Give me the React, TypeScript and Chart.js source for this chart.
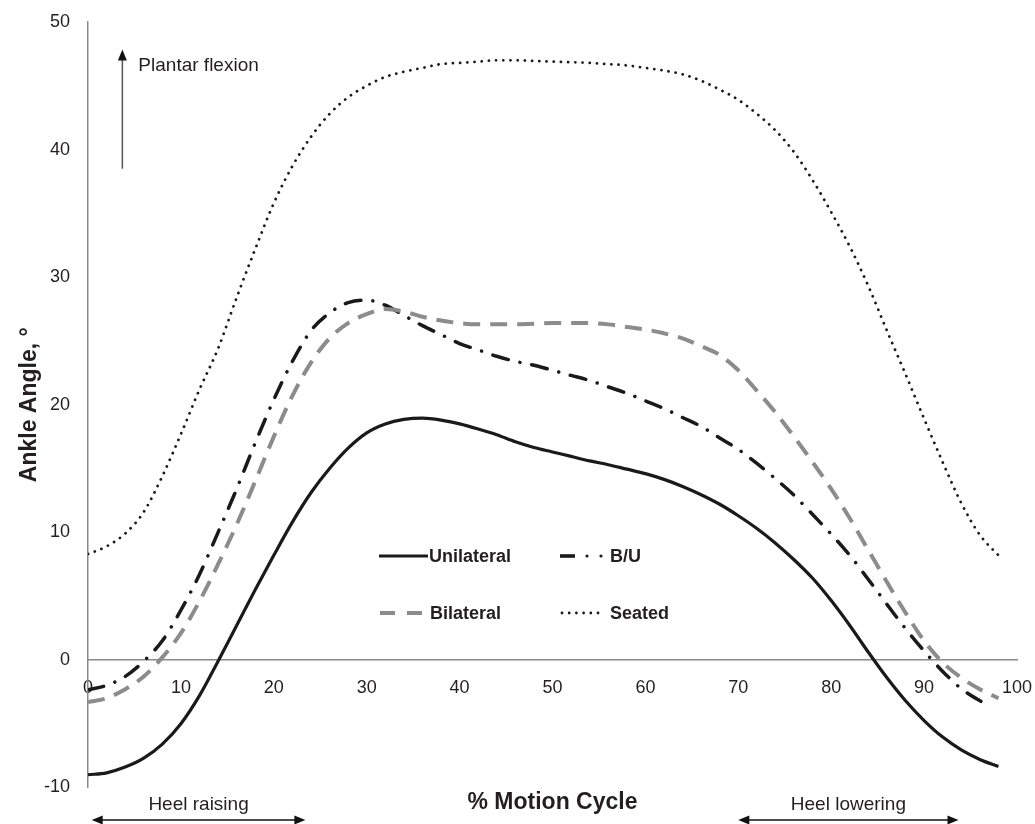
import { useEffect, useRef } from 'react';
import { Chart, registerables } from 'chart.js';

Chart.register(...registerables);

// % motion cycle sample positions
const cycle = [0, 2, 4, 6, 8, 10, 12, 14, 16, 18, 20, 22, 24, 26, 28, 30, 32, 34, 36, 38, 40, 42, 44, 46, 48,
  50, 52, 54, 56, 58, 60, 62, 64, 66, 68, 70, 72, 74, 76, 78, 80, 82, 84, 86, 88, 90, 92, 94, 96, 98];

const unilateral = [-9.0, -8.85, -8.4, -7.7, -6.6, -5.0, -2.8, -0.1, 2.7, 5.5, 8.2, 10.8, 13.1, 15.0, 16.6, 17.8, 18.5, 18.85, 18.95, 18.8,
  18.5, 18.1, 17.65, 17.1, 16.65, 16.3, 15.95, 15.6, 15.3, 14.95, 14.6, 14.15, 13.6, 12.95, 12.2, 11.3, 10.3, 9.15, 7.85, 6.4,
  4.65, 2.7, 0.6, -1.4, -3.2, -4.75, -6.05, -7.05, -7.8, -8.35];

const bu = [-2.35, -2.0, -1.3, -0.1, 1.5, 3.9, 6.7, 10.0, 13.4, 17.0, 20.4, 23.4, 25.8, 27.2, 28.0, 28.2, 27.8, 27.0, 26.2, 25.5,
  24.8, 24.3, 23.8, 23.4, 23.1, 22.7, 22.3, 21.9, 21.4, 20.9, 20.3, 19.7, 19.0, 18.3, 17.4, 16.5, 15.4, 14.2, 12.9, 11.4,
  9.85, 8.2, 6.3, 4.35, 2.45, 0.7, -0.9, -2.25, -3.2, null];
const buEnd = { x: 97, y: -3.6 };

const bilateral = [-3.3, -3.0, -2.3, -1.3, 0.2, 2.1, 4.6, 7.5, 10.6, 14.0, 17.5, 20.7, 23.3, 25.2, 26.4, 27.1, 27.5, 27.3, 26.9, 26.6,
  26.4, 26.3, 26.3, 26.3, 26.35, 26.4, 26.4, 26.4, 26.3, 26.1, 25.9, 25.6, 25.2, 24.6, 23.9, 22.7, 21.1, 19.4, 17.5, 15.5,
  13.4, 11.1, 8.6, 6.1, 3.7, 1.5, -0.2, -1.4, -2.3, -3.0];

const seated = [8.3, 8.9, 9.9, 11.6, 14.4, 17.7, 21.2, 24.4, 28.4, 32.2, 35.8, 38.7, 41.0, 42.8, 44.1, 45.0, 45.7, 46.1, 46.4, 46.7,
  46.8, 46.9, 47.0, 47.0, 46.95, 46.9, 46.85, 46.8, 46.7, 46.6, 46.4, 46.2, 45.9, 45.4, 44.7, 43.9, 42.8, 41.5, 39.8, 37.6,
  35.1, 32.4, 29.3, 25.8, 22.4, 18.9, 15.5, 12.3, 9.8, 8.2];

const xTicks = [0, 10, 20, 30, 40, 50, 60, 70, 80, 90, 100];
const yTicks = [-10, 0, 10, 20, 30, 40, 50];

const seriesNames = ['Unilateral', 'B/U', 'Bilateral', 'Seated'];

const FONT = "'Liberation Sans', Arial, Helvetica, sans-serif";
const INK = '#231f20';
const AXIS = '#8a8a8a';
const GRAY_LINE = '#8c8c8c';

const toPoints = (vals: (number | null)[]) =>
  vals.map((v, i) => (v === null ? null : { x: cycle[i], y: v })).filter(Boolean) as { x: number; y: number }[];

function arrowHead(ctx: CanvasRenderingContext2D, x: number, y: number, dir: 'up' | 'left' | 'right') {
  ctx.beginPath();
  if (dir === 'up') {
    ctx.moveTo(x, y);
    ctx.lineTo(x - 4.5, y + 11);
    ctx.lineTo(x + 4.5, y + 11);
  } else if (dir === 'left') {
    ctx.moveTo(x, y);
    ctx.lineTo(x + 11, y - 4.5);
    ctx.lineTo(x + 11, y + 4.5);
  } else {
    ctx.moveTo(x, y);
    ctx.lineTo(x - 11, y - 4.5);
    ctx.lineTo(x - 11, y + 4.5);
  }
  ctx.closePath();
  ctx.fill();
}

const annotations = {
  id: 'annotations',
  afterDraw(chart: any) {
    const ctx: CanvasRenderingContext2D = chart.ctx;
    const xs = chart.scales.x;
    const ys = chart.scales.y;
    const { top, bottom, left, right } = chart.chartArea;
    ctx.save();

    // Y axis title
    ctx.fillStyle = INK;
    ctx.font = `bold 23px ${FONT}`;
    ctx.textAlign = 'center';
    ctx.textBaseline = 'middle';
    ctx.save();
    ctx.translate(30, (top + bottom) / 2);
    ctx.rotate(-Math.PI / 2);
    ctx.fillText('Ankle Angle, °', 0, 0);
    ctx.restore();

    // X axis title
    ctx.fillText('% Motion Cycle', (left + right) / 2, 803);

    // Plantar flexion arrow
    const px = xs.getPixelForValue(3.7);
    ctx.strokeStyle = '#555';
    ctx.lineWidth = 1.5;
    ctx.beginPath();
    ctx.moveTo(px, ys.getPixelForValue(38.5));
    ctx.lineTo(px, ys.getPixelForValue(47.1));
    ctx.stroke();
    ctx.fillStyle = '#111';
    arrowHead(ctx, px, ys.getPixelForValue(47.85), 'up');
    ctx.fillStyle = INK;
    ctx.font = `19px ${FONT}`;
    ctx.textAlign = 'left';
    ctx.fillText('Plantar flexion', px + 16, 66);

    // Heel raising / lowering
    const arrowY = 820;
    const spans: [number, number, string][] = [
      [0.4, 23.4, 'Heel raising'],
      [70.0, 93.7, 'Heel lowering'],
    ];
    spans.forEach(([a, b, label]) => {
      const x1 = xs.getPixelForValue(a);
      const x2 = xs.getPixelForValue(b);
      ctx.strokeStyle = '#111';
      ctx.lineWidth = 1.5;
      ctx.beginPath();
      ctx.moveTo(x1 + 6, arrowY);
      ctx.lineTo(x2 - 6, arrowY);
      ctx.stroke();
      ctx.fillStyle = '#111';
      arrowHead(ctx, x1, arrowY, 'left');
      arrowHead(ctx, x2, arrowY, 'right');
      ctx.fillStyle = INK;
      ctx.font = `19px ${FONT}`;
      ctx.textAlign = 'center';
      ctx.fillText(label, (x1 + x2) / 2, 805);
    });

    // Legend
    const row1 = 556;
    const row2 = 613;
    const c1 = 379;
    const c2 = 560;
    ctx.font = `bold 18px ${FONT}`;
    ctx.textAlign = 'left';
    ctx.fillStyle = INK;

    // Unilateral
    ctx.strokeStyle = '#1a1a1a';
    ctx.lineWidth = 3.2;
    ctx.setLineDash([]);
    ctx.lineCap = 'butt';
    ctx.beginPath();
    ctx.moveTo(c1, row1);
    ctx.lineTo(c1 + 49, row1);
    ctx.stroke();
    ctx.fillText(seriesNames[0], c1 + 50, row1 + 1);

    // B/U
    ctx.lineWidth = 3.6;
    ctx.beginPath();
    ctx.moveTo(c2, row1);
    ctx.lineTo(c2 + 15, row1);
    ctx.stroke();
    ctx.fillStyle = '#1a1a1a';
    [c2 + 27, c2 + 41].forEach((dx) => {
      ctx.beginPath();
      ctx.arc(dx, row1, 1.6, 0, Math.PI * 2);
      ctx.fill();
    });
    ctx.fillStyle = INK;
    ctx.fillText(seriesNames[1], c2 + 50, row1 + 1);

    // Bilateral
    ctx.strokeStyle = GRAY_LINE;
    ctx.lineWidth = 4;
    [c1 + 1, c1 + 28].forEach((dx) => {
      ctx.beginPath();
      ctx.moveTo(dx, row2);
      ctx.lineTo(dx + 15, row2);
      ctx.stroke();
    });
    ctx.fillText(seriesNames[2], c1 + 51, row2 + 1);

    // Seated
    ctx.fillStyle = '#1a1a1a';
    for (let k = 0; k < 6; k++) {
      ctx.beginPath();
      ctx.arc(c2 + 2 + k * 7.2, row2, 1.4, 0, Math.PI * 2);
      ctx.fill();
    }
    ctx.fillStyle = INK;
    ctx.fillText(seriesNames[3], c2 + 50, row2 + 1);

    ctx.restore();
  },
};

export default function App() {
  const ref = useRef<HTMLCanvasElement>(null);

  useEffect(() => {
    const canvas = ref.current;
    if (!canvas) return;
    const chart = new Chart(canvas, {
      type: 'line',
      data: {
        datasets: [
          {
            label: seriesNames[3],
            data: toPoints(seated),
            borderColor: '#1a1a1a',
            borderWidth: 2.8,
            borderDash: [0.01, 7.2],
            borderCapStyle: 'round',
            pointRadius: 0,
            cubicInterpolationMode: 'monotone',
            fill: false,
          },
          {
            label: seriesNames[2],
            data: toPoints(bilateral),
            borderColor: GRAY_LINE,
            borderWidth: 4,
            borderDash: [17, 10],
            borderCapStyle: 'butt',
            pointRadius: 0,
            cubicInterpolationMode: 'monotone',
            fill: false,
          },
          {
            label: seriesNames[1],
            data: [...toPoints(bu), buEnd],
            borderColor: '#1a1a1a',
            borderWidth: 3.5,
            borderDash: [16, 12, 0.01, 12],
            borderCapStyle: 'round',
            pointRadius: 0,
            cubicInterpolationMode: 'monotone',
            fill: false,
          },
          {
            label: seriesNames[0],
            data: toPoints(unilateral),
            borderColor: '#1a1a1a',
            borderWidth: 3.2,
            pointRadius: 0,
            cubicInterpolationMode: 'monotone',
            fill: false,
          },
        ],
      },
      options: {
        responsive: false,
        animation: false,
        devicePixelRatio: 1,
        layout: { padding: { top: 22, right: 18, bottom: 36.5, left: 0 } },
        plugins: {
          legend: { display: false },
          tooltip: { enabled: false },
        },
        scales: {
          x: {
            type: 'linear',
            min: 0,
            max: 100,
            position: { y: 0 } as any,
            grid: { display: false, drawTicks: false },
            border: { color: AXIS, width: 1.5 },
            afterBuildTicks: (s: any) => {
              s.ticks = xTicks.map((v) => ({ value: v }));
            },
            afterFit: (s: any) => {
              s.paddingLeft = 0;
              s.paddingRight = 0;
            },
            ticks: {
              padding: 17,
              color: INK,
              autoSkip: false,
              maxRotation: 0,
              font: { family: FONT, size: 18 },
            },
          },
          y: {
            type: 'linear',
            min: -10,
            max: 50,
            grid: { display: false, drawTicks: false },
            border: { color: AXIS, width: 1.5 },
            afterBuildTicks: (s: any) => {
              s.ticks = yTicks.map((v) => ({ value: v }));
            },
            afterFit: (s: any) => {
              s.width = 88;
              s.paddingTop = 0;
              s.paddingBottom = 0;
            },
            ticks: {
              padding: 18,
              color: INK,
              font: { family: FONT, size: 18 },
            },
          },
        },
      },
      plugins: [annotations],
    });
    return () => chart.destroy();
  }, []);

  return (
    <div style={{ position: 'fixed', left: 0, top: 0, width: 1035, height: 824, background: '#fff' }}>
      <canvas ref={ref} width={1035} height={824} style={{ width: 1035, height: 824, display: 'block' }} />
    </div>
  );
}
